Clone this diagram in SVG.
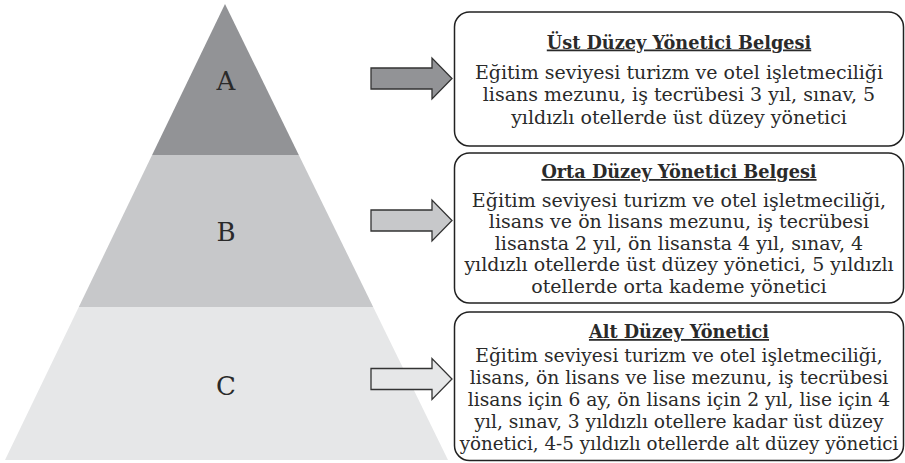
<svg xmlns="http://www.w3.org/2000/svg" width="905" height="463" viewBox="0 0 905 463">
<style>
.lvl{font-family:"DejaVu Serif","Liberation Serif",serif;font-size:26px;fill:#2a2a2a;text-anchor:middle}
.ttl{font-family:"DejaVu Serif","Liberation Serif",serif;font-size:17.7px;font-weight:bold;fill:#2a2a2a;text-anchor:middle;text-decoration:underline}
.txt{font-family:"DejaVu Serif","Liberation Serif",serif;font-size:19px;fill:#2a2a2a;text-anchor:middle}
.sm{font-size:18.7px}
.xs{font-size:18.3px}
.box{fill:#fff;stroke:#222;stroke-width:1.5}
.arr{stroke:#333;stroke-width:1.3;stroke-linejoin:miter}
</style>
<rect width="905" height="463" fill="#fff"/>
<g id="pyramid">
<g id="levelA"><polygon points="225,4 298.8,155 152.1,155" fill="#929396"/><text class="lvl" x="226" y="90">A</text></g>
<g id="levelB"><polygon points="152.1,155 298.8,155 373.2,307 78.8,307" fill="#c7c8ca"/><text class="lvl" x="226" y="241">B</text></g>
<g id="levelC"><polygon points="78.8,307 373.2,307 448,460 5,460" fill="#e6e7e8"/><text class="lvl" x="226" y="395">C</text></g>
</g>
<g id="connectors">
<polygon class="arr" fill="#929396" points="371,68 432,68 432,58 452,78.5 432,99 432,89 371,89"/>
<polygon class="arr" fill="#c7c8ca" points="371,210 432,210 432,200 452,220.5 432,241 432,231 371,231"/>
<polygon class="arr" fill="#e6e7e8" points="371,368.5 432,368.5 432,358.5 452,379 432,399.5 432,389.5 371,389.5"/>
</g>
<g id="box1">
<rect class="box" x="454.5" y="12" width="449" height="134" rx="15"/>
<text class="ttl" x="679" y="48.5">Üst Düzey Yönetici Belgesi</text>
<text class="txt" x="679" y="78.5">Eğitim seviyesi turizm ve otel işletmeciliği</text>
<text class="txt" x="679" y="101">lisans mezunu, iş tecrübesi 3 yıl, sınav, 5</text>
<text class="txt" x="679" y="123.5">yıldızlı otellerde üst düzey yönetici</text>
</g>
<g id="box2">
<rect class="box" x="454.5" y="153" width="449" height="150" rx="15"/>
<text class="ttl" x="679" y="178">Orta Düzey Yönetici Belgesi</text>
<text class="txt" x="679" y="206.5">Eğitim seviyesi turizm ve otel işletmeciliği,</text>
<text class="txt" x="679" y="228">lisans ve ön lisans mezunu, iş tecrübesi</text>
<text class="txt" x="679" y="249.5">lisansta 2 yıl, ön lisansta 4 yıl, sınav, 4</text>
<text class="txt" x="679" y="271">yıldızlı otellerde üst düzey yönetici, 5 yıldızlı</text>
<text class="txt" x="679" y="292.5">otellerde orta kademe yönetici</text>
</g>
<g id="box3">
<rect class="box" x="454.5" y="312" width="449" height="148.5" rx="15"/>
<text class="ttl" x="679" y="338">Alt Düzey Yönetici</text>
<text class="txt sm" x="679" y="362">Eğitim seviyesi turizm ve otel işletmeciliği,</text>
<text class="txt sm" x="679" y="384">lisans, ön lisans ve lise mezunu, iş tecrübesi</text>
<text class="txt sm" x="679" y="406">lisans için 6 ay, ön lisans için 2 yıl, lise için 4</text>
<text class="txt sm" x="679" y="428">yıl, sınav, 3 yıldızlı otellere kadar üst düzey</text>
<text class="txt xs" x="679" y="450">yönetici, 4-5 yıldızlı otellerde alt düzey yönetici</text>
</g>
</svg>
